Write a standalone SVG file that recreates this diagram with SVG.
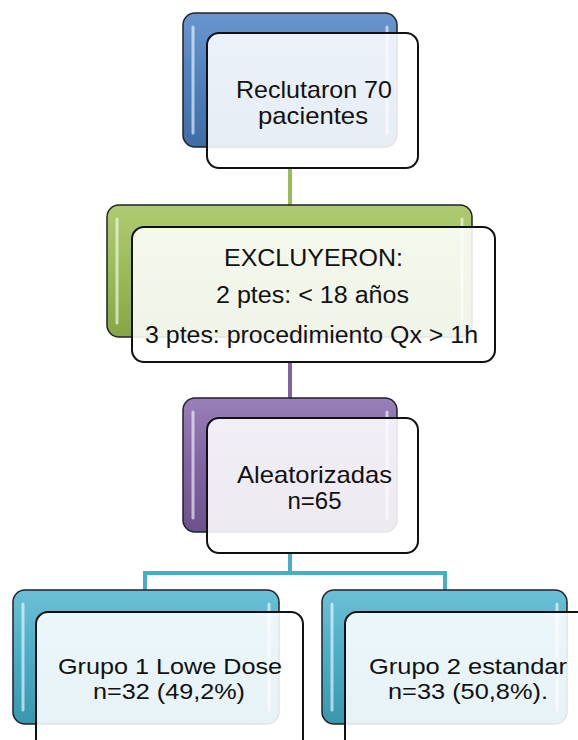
<svg xmlns="http://www.w3.org/2000/svg" width="578" height="740" viewBox="0 0 578 740">
<defs>
<linearGradient id="gBlue" x1="0" y1="0" x2="0" y2="1"><stop offset="0" stop-color="#6A96CF"/><stop offset="0.5" stop-color="#4F81BD"/><stop offset="1" stop-color="#3E6CA6"/></linearGradient>
<linearGradient id="gGreen" x1="0" y1="0" x2="0" y2="1"><stop offset="0" stop-color="#AFCB72"/><stop offset="0.5" stop-color="#9BBB59"/><stop offset="1" stop-color="#86A646"/></linearGradient>
<linearGradient id="gPurple" x1="0" y1="0" x2="0" y2="1"><stop offset="0" stop-color="#9880B8"/><stop offset="0.5" stop-color="#8064A2"/><stop offset="1" stop-color="#6C528D"/></linearGradient>
<linearGradient id="gTeal" x1="0" y1="0" x2="0" y2="1"><stop offset="0" stop-color="#6BC0D6"/><stop offset="0.5" stop-color="#4BACC6"/><stop offset="1" stop-color="#3996AF"/></linearGradient>
</defs>
<style>
.back{stroke:#222;stroke-width:1.5}
.hl{stroke:#FFFFFF;stroke-width:3;stroke-linecap:round;opacity:0.6}
.front{stroke:#111;stroke-width:2}
.conn{fill:none;stroke-width:4}
text{font-family:"Liberation Sans",Arial,sans-serif;fill:#111;text-anchor:middle}
</style>
<g id="connectors">
<line class="conn" stroke="#9BBB59" x1="290" y1="168" x2="290" y2="206"/>
<line class="conn" stroke="#8064A2" x1="290" y1="362" x2="290" y2="399"/>
<path class="conn" stroke="#4BACC6" d="M290 553 V573 M145 591 V573 H445 V591"/>
</g>
<g id="n1">
<rect class="back" x="183" y="13" width="214" height="134" rx="12" fill="url(#gBlue)"/>
<line class="hl" x1="193" y1="27" x2="193" y2="133"/><line class="hl" x1="387" y1="27" x2="387" y2="133"/>
<rect class="front" x="207" y="33" width="211" height="135" rx="12" fill="#FFFFFF" fill-opacity="0.88"/>
<text x="314" y="98" font-size="24" textLength="156" lengthAdjust="spacingAndGlyphs">Reclutaron 70</text>
<text x="313" y="124" font-size="24" textLength="110" lengthAdjust="spacingAndGlyphs">pacientes</text>
</g>
<g id="n2">
<rect class="back" x="107" y="205" width="365" height="132" rx="12" fill="url(#gGreen)"/>
<line class="hl" x1="117" y1="219" x2="117" y2="323"/><line class="hl" x1="462" y1="219" x2="462" y2="323"/>
<rect class="front" x="132" y="227" width="363" height="135" rx="12" fill="#FFFFFF" fill-opacity="0.88"/>
<text x="313.5" y="266" font-size="23" textLength="179" lengthAdjust="spacingAndGlyphs">EXCLUYERON:</text>
<text x="312.5" y="303" font-size="23" textLength="193" lengthAdjust="spacingAndGlyphs">2 ptes: &lt; 18 años</text>
<text x="311.5" y="343" font-size="23" textLength="333" lengthAdjust="spacingAndGlyphs">3 ptes: procedimiento Qx &gt; 1h</text>
</g>
<g id="n3">
<rect class="back" x="183" y="398" width="214" height="134" rx="12" fill="url(#gPurple)"/>
<line class="hl" x1="193" y1="412" x2="193" y2="518"/><line class="hl" x1="387" y1="412" x2="387" y2="518"/>
<rect class="front" x="207" y="418" width="211" height="135" rx="12" fill="#FFFFFF" fill-opacity="0.88"/>
<text x="314.5" y="483" font-size="24" textLength="155" lengthAdjust="spacingAndGlyphs">Aleatorizadas</text>
<text x="314.5" y="509" font-size="24">n=65</text>
</g>
<g id="n4">
<rect class="back" x="13" y="590" width="266" height="134" rx="12" fill="url(#gTeal)"/>
<line class="hl" x1="23" y1="604" x2="23" y2="710"/><line class="hl" x1="269" y1="604" x2="269" y2="710"/>
<rect class="front" x="36" y="612" width="267" height="140" rx="12" fill="#FFFFFF" fill-opacity="0.88"/>
<text x="170" y="674" font-size="22" textLength="224" lengthAdjust="spacingAndGlyphs">Grupo 1 Lowe Dose</text>
<text x="169" y="699" font-size="22" textLength="152" lengthAdjust="spacingAndGlyphs">n=32 (49,2%)</text>
</g>
<g id="n5">
<rect class="back" x="322" y="590" width="245" height="134" rx="12" fill="url(#gTeal)"/>
<line class="hl" x1="332" y1="604" x2="332" y2="710"/><line class="hl" x1="557" y1="604" x2="557" y2="710"/>
<rect class="front" x="345" y="612" width="267" height="140" rx="12" fill="#FFFFFF" fill-opacity="0.88"/>
<text x="468" y="674" font-size="22" textLength="198" lengthAdjust="spacingAndGlyphs">Grupo 2 estandar</text>
<text x="468" y="699" font-size="22" textLength="160" lengthAdjust="spacingAndGlyphs">n=33 (50,8%).</text>
</g>
</svg>
